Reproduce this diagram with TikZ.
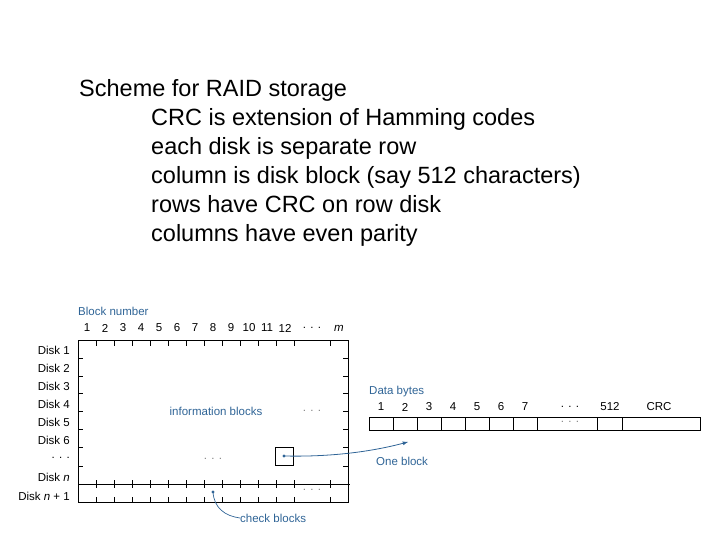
\documentclass[tikz,border=0pt]{standalone}
\usepackage{fontspec}
\setmainfont{Liberation Sans}
\usetikzlibrary{calc}
\definecolor{figblue}{HTML}{2F6496}

\begin{document}
\begin{tikzpicture}[x=1pt,y=-1pt,
        lbl/.style={font=\fontsize{11.5}{13}\selectfont,inner sep=0pt},
        bluelbl/.style={lbl,text=figblue},
        tick/.style={line width=0.6pt}]
                \useasboundingbox (0,0) rectangle (720,540);

                % heading text
                \node[anchor=north west,inner sep=0pt,font=\fontsize{23.5}{29}\selectfont,align=left] (head) at (79,79)
                {Scheme for RAID storage\\
                \hspace*{72pt}CRC is extension of Hamming codes\\
                \hspace*{72pt}each disk is separate row\\
                \hspace*{72pt}column is disk block (say 512 characters)\\
                \hspace*{72pt}rows have CRC on row disk\\
                \hspace*{72pt}columns have even parity};

                % disk grid
                \coordinate (tl) at (78,340);
                \coordinate (br) at (348,502);
                \draw[line width=0.6pt] (tl) rectangle (br);
                \draw[line width=0.8pt] (78,484)--(350,484);
                \foreach \k in {1,...,12}{
                    \draw[tick] (78+18*\k,340)--++(0,6);
                    \draw[tick] (78+18*\k,480)--++(0,8);
                    \draw[tick] (78+18*\k,502)--++(0,-5);
                    \node[lbl] at (69+18*\k,328) {\k};
                }
                \draw[tick] (330,340)--++(0,6);
                \draw[tick] (330,480)--++(0,8);
                \draw[tick] (330,502)--++(0,-5);
                \node[lbl] at (312,328) {. . .};
                \node[lbl] at (339,328) {\itshape m};
                \foreach \y in {358,376,393,411,429,447,466}{
                    \draw[tick] (78,\y)--++(5,0);
                    \draw[tick] (348,\y)--++(-5,0);
                }
                \node[bluelbl,anchor=west] (blocknum) at (78,311) {Block number};
                \foreach \i/\y in {1/350,2/368,3/386,4/404,5/422,6/440}
                    \node[lbl,anchor=east] (disk\i) at (70,\y) {Disk \i};
                \node[lbl,anchor=east] (diskdots) at (70,458) {. . .};
                \node[lbl,anchor=east] (diskn) at (70,477) {Disk \textit{n}};
                \node[lbl,anchor=east] (disknn) at (70,496) {Disk \textit{n} + 1};
                \node[bluelbl] (info) at (216,411) {information blocks};
                \node[lbl,text=gray] at (312,411) {. . .};
                \node[lbl,text=gray] at (213,459) {. . .};
                \node[lbl,text=gray] at (312,490) {. . .};

                % one block
                \node[draw,minimum size=18pt,inner sep=0pt,line width=0.6pt] (blk) at (284,456) {};
                \fill[figblue] (blk.center) circle (1.6pt);
                \coordinate (arrowend) at (408,442);
                \draw[figblue,line width=0.8pt,-latex] (blk.center) .. controls (330,457) and (370,452) .. (arrowend);
                \node[bluelbl,anchor=west] (oneblock) at (376,461) {One block};

                % check blocks
                \coordinate (chk) at (213,492);
                \fill[figblue] (chk) circle (1.6pt);
                \node[bluelbl,anchor=west] (checkblk) at (240,518) {check blocks};
                \draw[figblue,line width=0.7pt] (chk) .. controls (214,508) and (225,516) .. (checkblk.west);

                % data bytes row
                \node[bluelbl,anchor=west] (databytes) at (369,392) {Data bytes};
                \draw[line width=0.6pt] (369,417) rectangle (700,430);
                \foreach \x in {393,417,441,465,489,513,537,597,622}
                    \draw[line width=0.6pt] (\x,417)--(\x,430);
                \foreach \i in {1,...,7}
                    \node[lbl] at (357+24*\i,407) {\i};
                \node[lbl] at (570,407) {. . .};
                \node[lbl] at (610,407) {512};
                \node[lbl] at (659,407) {CRC};
                \node[lbl,text=gray] at (570,422) {. . .};
            \end{tikzpicture}
\end{document}
